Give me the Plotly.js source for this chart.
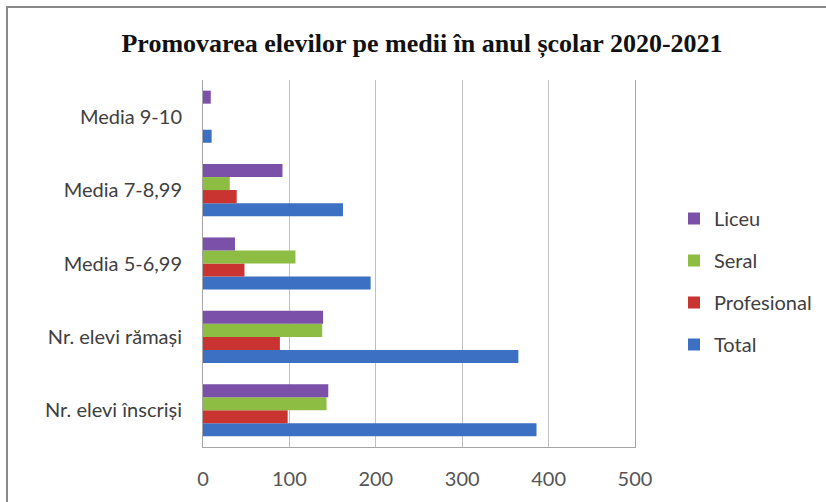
<!DOCTYPE html>
<html>
<head>
<meta charset="utf-8">
<script src="https://cdn.plot.ly/plotly-3.0.1.min.js"></script>
<style>
  html, body { margin: 0; padding: 0; background: #ffffff; }
  #wrap { position: relative; width: 826px; height: 502px; }
  #chart { width: 826px; height: 502px; }
  #frame { position: absolute; left: 6px; top: 6px; width: 830px; height: 510px;
           border-left: 2px solid #8a8a8a; border-top: 2px solid #8a8a8a; pointer-events: none; }
</style>
</head>
<body>
<div id="wrap">
  <div id="chart"></div>
  <div id="frame"></div>
</div>
<script>
const categories = ["Nr. elevi înscriși", "Nr. elevi rămași", "Media 5-6,99", "Media 7-8,99", "Media 9-10"];
const total       = [386, 365, 194, 162, 10];
const profesional = [98, 89, 48, 39, 0];
const seral       = [143, 138, 107, 31, 0];
const liceu       = [145, 139, 37, 92, 9];
const xTicks = [0, 100, 200, 300, 400, 500];

const seriesNames  = ["Total", "Profesional", "Seral", "Liceu"];
const seriesValues = [total, profesional, seral, liceu];
const seriesColors = ["#3b70c2", "#c93330", "#8dbd42", "#7a50a8"];

const traces = seriesNames.map((name, i) => ({
  type: "bar",
  orientation: "h",
  name: name,
  y: categories,
  x: seriesValues[i],
  legendgroup: "g" + i,
  legendrank: 1000 - i,
  marker: { color: seriesColors[i], line: { width: 0 } },
  hoverinfo: "x+name"
}));

const layout = {
  width: 826,
  height: 502,
  paper_bgcolor: "#ffffff",
  plot_bgcolor: "#ffffff",
  margin: { l: 203, r: 191, t: 80, b: 55 },
  title: {
    text: "Promovarea elevilor pe medii în anul școlar 2020-2021",
    font: { family: "Liberation Serif", size: 26, color: "#111111", weight: "bold" },
    x: 422 / 826, xref: "container", xanchor: "center",
    y: 1 - 43 / 502, yref: "container", yanchor: "middle"
  },
  barmode: "group",
  bargap: 0.29,
  bargroupgap: 0,
  xaxis: {
    range: [0, 500],
    tickvals: xTicks,
    ticktext: xTicks.map(String),
    showgrid: true,
    gridcolor: "#c0c0c0",
    gridwidth: 1,
    zeroline: false,
    showline: true,
    linecolor: "#a6a6a6",
    linewidth: 1,
    ticks: "",
    ticklabelstandoff: 14,
    tickfont: { family: "Lato", size: 20, color: "#555555" },
    fixedrange: true
  },
  yaxis: {
    type: "category",
    categoryorder: "array",
    categoryarray: categories,
    showgrid: false,
    zeroline: false,
    showline: true,
    mirror: true,
    linecolor: "#a6a6a6",
    linewidth: 1,
    ticks: "",
    ticklabelstandoff: 16,
    tickfont: { family: "Lato", size: 20, color: "#404040" },
    fixedrange: true
  },
  showlegend: true,
  legend: {
    traceorder: "grouped",
    x: 674 / 826, xref: "container",
    y: 1 - 199 / 502, yref: "container",
    xanchor: "left", yanchor: "top",
    font: { family: "Lato", size: 20, color: "#404040" },
    tracegroupgap: 13,
    itemwidth: 30,
    bgcolor: "rgba(0,0,0,0)"
  }
};

Plotly.newPlot("chart", traces, layout, { displayModeBar: false, staticPlot: true });
</script>
</body>
</html>
